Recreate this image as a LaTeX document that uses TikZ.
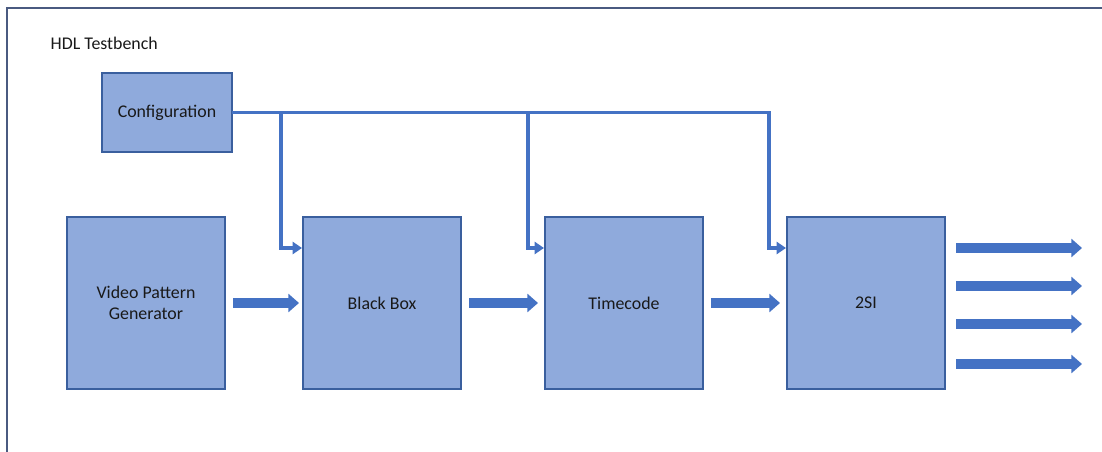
\documentclass[tikz,border=0pt]{standalone}
\usepackage{fontspec}
\setmainfont{Carlito}
\usetikzlibrary{shapes,arrows.meta,positioning,calc}
\usepackage{xcolor}

\definecolor{boxfill}{HTML}{8FAADC}
\definecolor{boxline}{HTML}{3A5F9E}
\definecolor{wire}{HTML}{4472C4}
\definecolor{frame}{HTML}{4A5A80}

\begin{document}
\begin{tikzpicture}[x=0.75pt, y=-0.75pt, font=\fontsize{13.4pt}{16pt}\selectfont]
\tikzstyle{block} = [rectangle, draw=boxline, line width=0.8pt, fill=boxfill, text=black!90, align=center, minimum width=118.5pt, minimum height=129pt, inner sep=0pt, outer sep=0pt]
\tikzstyle{cfg} = [draw=wire, line width=2.3pt, -{Triangle[length=7pt, width=9pt]}]
\tikzstyle{data} = [draw=wire, line width=7.5pt, -{Triangle[length=8pt, width=13.5pt]}, shorten >=3pt]

\useasboundingbox (0,0) rectangle (1102,452);
\clip (0,0) rectangle (1102,452);

% testbench frame, runs off the page to the right and bottom
\draw[frame, line width=1pt] (7,470) -- (7,8) -- (1120,8);
\node[anchor=west, text=black!90] (title) at (46,43) {HDL Testbench};

\node [block, minimum width=97.5pt, minimum height=59.25pt, anchor=north west] (config) at (102,73) {Configuration};
\node [block, anchor=north west] (vpg) at (67,217) {Video Pattern\\Generator};
\node [block, right=58.5pt of vpg] (blackbox) {Black Box};
\node [block, right=63pt of blackbox] (timecode) {Timecode};
\node [block, right=63pt of timecode] (twosi) {2SI};

% configuration bus
\draw [cfg] (config.east) -| ($(blackbox.north west)+(-22,31)$) -- ($(blackbox.north west)+(-1,31)$);
\draw [cfg] (config.east) -| ($(timecode.north west)+(-17,31)$) -- ($(timecode.north west)+(-1,31)$);
\draw [cfg] (config.east) -| ($(twosi.north west)+(-18,31)$) -- ($(twosi.north west)+(-1,31)$);

% video path
\draw [data] ($(vpg.east)+(8,0)$) -- (blackbox.west);
\draw [data] ($(blackbox.east)+(8,0)$) -- ($(timecode.west)+(-3,0)$);
\draw [data] ($(timecode.east)+(8,0)$) -- ($(twosi.west)+(-3,0)$);

% 2SI outputs
\foreach \dy/\n in {31/a, 69/b, 107/c, 147/d} {
  \coordinate (out\n) at ($(twosi.north east)+(141,\dy)$);
  \draw [data] ($(twosi.north east)+(11,\dy)$) -- (out\n);
}

\end{tikzpicture}
\end{document}
